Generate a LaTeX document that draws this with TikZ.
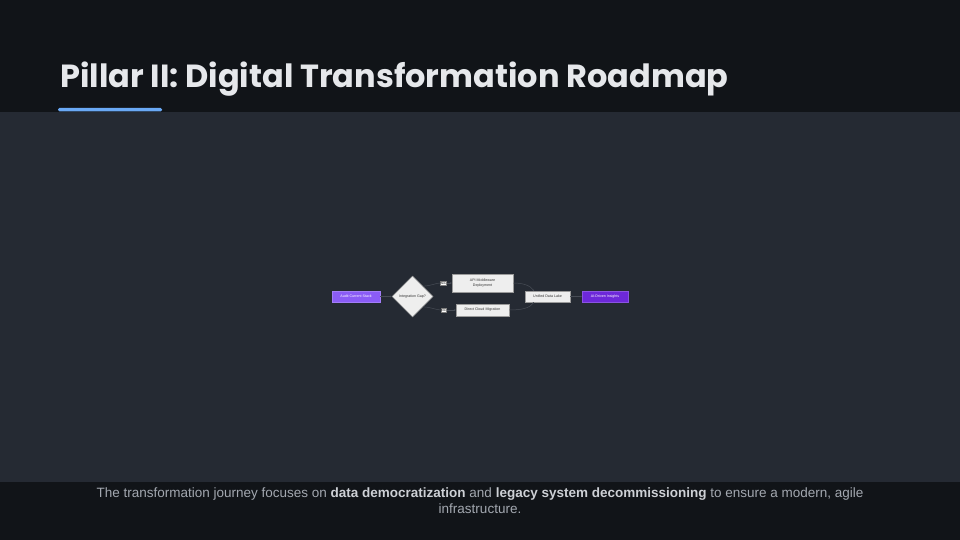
\documentclass[tikz,border=0pt]{standalone}
\usepackage{fontspec}
\setmainfont{Liberation Sans}
\newfontfamily\titlefont{Poppins}
\usetikzlibrary{shapes.geometric,arrows.meta}
\definecolor{bgc}{HTML}{111418}
\definecolor{panelc}{HTML}{252A33}
\definecolor{titlec}{HTML}{E6E8EB}
\definecolor{barc}{HTML}{6AA9F5}
\definecolor{footc}{HTML}{A3A8B0}
\definecolor{footb}{HTML}{CDD0D5}
\definecolor{purpA}{HTML}{8B5CF6}
\definecolor{purpB}{HTML}{6D28D9}
\definecolor{boxf}{HTML}{EEEEEE}
\definecolor{boxd}{HTML}{9A9A9A}
\definecolor{edgec}{HTML}{474C55}
\tikzset{
  flowbox/.style={draw=boxd, fill=boxf, line width=0.5pt, inner sep=0pt, font=\fontsize{3.6}{4.4}\selectfont, text=black!80, align=center},
  purpbox/.style={draw=#1!80!white, fill=#1, line width=0.4pt, inner sep=0pt, font=\fontsize{3.6}{4.4}\selectfont, text=white},
  decbox/.style={diamond, draw=boxd, fill=boxf, line width=0.5pt, inner sep=0pt, minimum width=41pt, minimum height=41pt, font=\fontsize{3.6}{4.4}\selectfont, text=black!80},
  lbl/.style={fill=white, draw=black!50, line width=0.2pt, inner sep=0.5pt, font=\fontsize{3.2}{3.8}\selectfont, text=black},
  flow/.style={draw=edgec, line width=0.5pt, -{Stealth[length=1.5pt,width=1.5pt]}},
  flowplain/.style={draw=edgec, line width=0.5pt}
}
\begin{document}
\begin{tikzpicture}[x=1pt,y=-1pt]
\useasboundingbox (0,0) rectangle (960,540);
\fill[bgc] (0,0) rectangle (960,540);
\fill[panelc] (0,112) rectangle (960,482);
\node[anchor=base west, inner sep=0pt, text=titlec, font=\titlefont\fontsize{32}{36}\selectfont\bfseries] (title) at (60,88) {Pillar II: Digital Transformation Roadmap};
\fill[barc, rounded corners=1.5pt] (58,108) rectangle (162,111.5);
\node[anchor=north, inner sep=0pt, align=center, text=footc, font=\fontsize{13.5}{16}\selectfont] (foot) at (480,487.5) {The transformation journey focuses on \textcolor{footb}{\textbf{data democratization}} and \textcolor{footb}{\textbf{legacy system decommissioning}} to ensure a modern, agile\\infrastructure.};

\node[purpbox=purpA, minimum width=48pt, minimum height=11pt] (audit) at (356,296.5) {Audit Current Stack};
\node[decbox] (gap) at (412.5,296.5) {Integration Gap?};
\node[flowbox, minimum width=61pt, minimum height=18pt] (api) at (482.5,283) {API Middleware\\Deployment};
\node[flowbox, minimum width=53pt, minimum height=12pt] (cloud) at (482.5,310) {Direct Cloud Migration};
\node[flowbox, minimum width=45pt, minimum height=11pt] (lake) at (547.5,296.5) {Unified Data Lake};
\node[purpbox=purpB, minimum width=46pt, minimum height=11pt] (ai) at (605,296.5) {AI-Driven Insights};

\draw[flow] (audit) -- (gap);
\draw[flowplain] (gap.north east) .. controls (431,286) and (436,283) .. (440,283);
\draw[flow] (446,283) -- (api.west);
\draw[flowplain] (gap.south east) .. controls (431,307) and (436,310) .. (441,310);
\draw[flow] (446,310) -- (cloud.west);
\draw[flow] (api.east) .. controls (522,283) and (530,285) .. (534,291);
\draw[flow] (cloud.east) .. controls (522,310) and (530,308) .. (534,302);
\draw[flow] (lake) -- (ai);
\node[lbl] (yes) at (443,283) {Yes};
\node[lbl] (no) at (443.5,310) {No};
\end{tikzpicture}
\end{document}
